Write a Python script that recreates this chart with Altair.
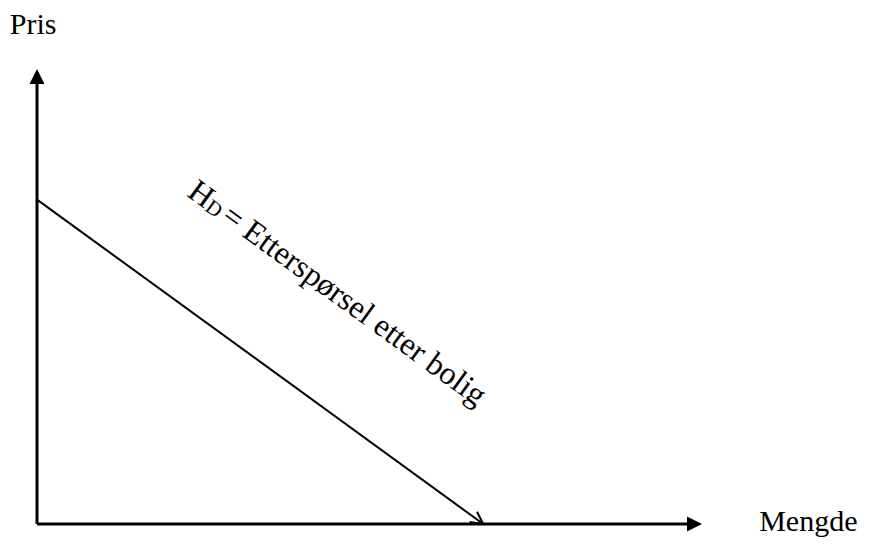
import altair as alt
import pandas as pd

# Schematic data (arbitrary units, 0..100 on both axes)
axis_max = [100]
demand_qty = [0, 67.1]
demand_price = [71.3, 0]

label_main = ["H"]
label_sub = ["D"]
label_rest = ["= Etterspørsel etter bolig"]
label_pos_qty = [22.4]
label_pos_price = [72.2]

axis_titles = ["Pris", "Mengde"]
axis_title_qty = [-4.1, 108.6]
axis_title_price = [107.6, -1.6]

FONT = "Liberation Serif"
X = alt.Scale(domain=[0, 100], nice=False, zero=False)
Y = alt.Scale(domain=[0, 100], nice=False, zero=False)

demand = pd.DataFrame({"q": demand_qty, "p": demand_price})
end = pd.DataFrame({"q": [demand_qty[-1]], "p": [demand_price[-1]]})
ax = pd.DataFrame({"zero": [0], "top": axis_max})
lab = pd.DataFrame({"q": label_pos_qty, "p": label_pos_price,
                    "main": label_main, "sub": label_sub, "rest": label_rest})
titles = pd.DataFrame({"t": axis_titles, "q": axis_title_qty, "p": axis_title_price})

ARROW = "M0,0L-1,2L1,2Z"
OPEN_ARROW = "M-1.75,-0.9L0,0L-1.75,0.9"

y_axis = alt.Chart(ax).mark_rule(color="black", strokeWidth=3, y2Offset=14).encode(
    x=alt.X("zero:Q", scale=X, axis=None),
    y=alt.Y("zero:Q", scale=Y, axis=None),
    y2="top:Q",
)
x_axis = alt.Chart(ax).mark_rule(color="black", strokeWidth=3, x2Offset=-14).encode(
    x=alt.X("zero:Q", scale=X, axis=None),
    x2="top:Q",
    y=alt.Y("zero:Q", scale=Y, axis=None),
)
y_head = alt.Chart(ax).mark_point(shape=ARROW, filled=True, size=225, color="black", opacity=1).encode(
    x=alt.X("zero:Q", scale=X, axis=None),
    y=alt.Y("top:Q", scale=Y, axis=None),
)
x_head = alt.Chart(ax).mark_point(shape=ARROW, filled=True, size=225, color="black", opacity=1, angle=90).encode(
    x=alt.X("top:Q", scale=X, axis=None),
    y=alt.Y("zero:Q", scale=Y, axis=None),
)

demand_line = alt.Chart(demand).mark_line(color="black", strokeWidth=2).encode(
    x=alt.X("q:Q", scale=X, axis=None),
    y=alt.Y("p:Q", scale=Y, axis=None),
)
demand_head = alt.Chart(end).mark_point(shape=OPEN_ARROW, filled=False, size=196, color="black",
                                        strokeWidth=2, opacity=1, angle=36).encode(
    x=alt.X("q:Q", scale=X, axis=None),
    y=alt.Y("p:Q", scale=Y, axis=None),
)

base_lab = alt.Chart(lab).encode(
    x=alt.X("q:Q", scale=X, axis=None),
    y=alt.Y("p:Q", scale=Y, axis=None),
)
t_main = base_lab.mark_text(font=FONT, fontSize=32, angle=36, align="left", baseline="alphabetic",
                            color="black").encode(text="main:N")
t_sub = base_lab.mark_text(font=FONT, fontSize=21, angle=36, align="left", baseline="alphabetic",
                           color="black", dx=23, dy=1).encode(text="sub:N")
t_rest = base_lab.mark_text(font=FONT, fontSize=32, angle=36, align="left", baseline="alphabetic",
                            color="black", dx=42).encode(text="rest:N")

t_titles = alt.Chart(titles).mark_text(font=FONT, fontSize=30, align="left", baseline="alphabetic",
                                       color="black").encode(
    x=alt.X("q:Q", scale=X, axis=None),
    y=alt.Y("p:Q", scale=Y, axis=None),
    text="t:N",
)

chart = alt.layer(
    y_axis, x_axis, y_head, x_head, demand_line, demand_head, t_main, t_sub, t_rest, t_titles
).properties(
    width=665, height=455,
    autosize=alt.AutoSizeParams(type="none"),
    padding={"left": 29, "top": 61, "right": 160, "bottom": 15},
    background="white",
).configure_view(stroke=None)

chart.save("out.html", embed_options={"renderer": "svg", "actions": False})
